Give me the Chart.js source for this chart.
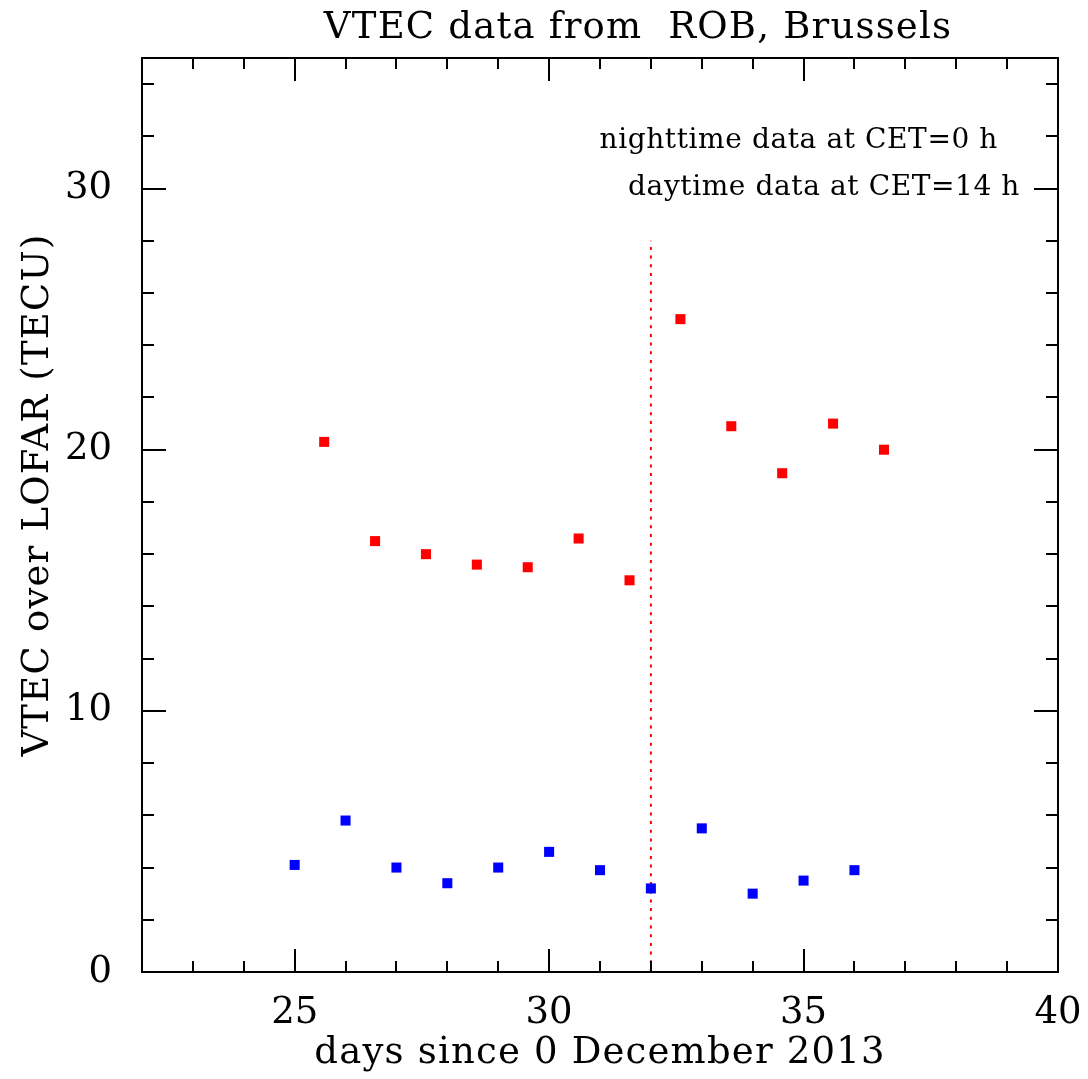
<!DOCTYPE html>
<html>
<head>
<meta charset="utf-8">
<script src="https://cdn.jsdelivr.net/npm/chart.js@4.4.1/dist/chart.umd.min.js"></script>
<style>
  html, body { margin: 0; padding: 0; background: #fff; }
  #wrap { width: 1088px; height: 1079px; }
</style>
</head>
<body>
<div id="wrap"><canvas id="vtec"></canvas></div>
<script>
// VTEC over LOFAR, nighttime (CET 0 h) and daytime (CET 14 h) samples
const nightDays = [25, 26, 27, 28, 29, 30, 31, 32, 33, 34, 35, 36];
const nightVtec = [4.1, 5.8, 4.0, 3.4, 4.0, 4.6, 3.9, 3.2, 5.5, 3.0, 3.5, 3.9];

const dayDays = [25.58, 26.58, 27.58, 28.58, 29.58, 30.58, 31.58, 32.58, 33.58, 34.58, 35.58, 36.58];
const dayVtec = [20.3, 16.5, 16.0, 15.6, 15.5, 16.6, 15.0, 25.0, 20.9, 19.1, 21.0, 20.0];

const markerDay = [32, 32];
const markerVtec = [0, 28];

const xMajor = [25, 30, 35, 40];
const yMajor = [0, 10, 20, 30];

const FONT = "'DejaVu Serif', 'Liberation Serif', serif";

const pts = (xs, ys) => xs.map((x, i) => ({ x: x, y: ys[i] }));

// frame, inward ticks on all four sides, title, axis labels and notes
const framePlugin = {
    id: "frame",
    afterDraw(chart) {
        const { ctx, chartArea: a, scales } = chart;
        const xs = scales.x, ys = scales.y;
        ctx.save();
        ctx.strokeStyle = "#000";
        ctx.lineWidth = 2;
        ctx.strokeRect(a.left, a.top, a.right - a.left, a.bottom - a.top);

        ctx.beginPath();
        for (let v = 22; v <= 40; v += 1) {
            const px = Math.round(xs.getPixelForValue(v));
            const len = v % 5 === 0 ? 23 : 11;
            ctx.moveTo(px, a.bottom); ctx.lineTo(px, a.bottom - len);
            ctx.moveTo(px, a.top); ctx.lineTo(px, a.top + len);
        }
        for (let v = 0; v <= 35; v += 2) {
            const py = Math.round(ys.getPixelForValue(v));
            const len = v % 10 === 0 ? 24 : 12;
            ctx.moveTo(a.left, py); ctx.lineTo(a.left + len, py);
            ctx.moveTo(a.right, py); ctx.lineTo(a.right - len, py);
        }
        ctx.stroke();

        ctx.fillStyle = "#000";
        ctx.textBaseline = "middle";
        ctx.font = "37px " + FONT;
        ctx.letterSpacing = "1.2px";
        ctx.textAlign = "center";
        ctx.fillText("VTEC data from  ROB, Brussels", 638, 28);
        ctx.fillText("days since 0 December 2013", 600, 1053);

        ctx.save();
        ctx.translate(38, 495);
        ctx.rotate(-Math.PI / 2);
        ctx.fillText("VTEC over LOFAR (TECU)", 0, 0);
        ctx.restore();

        ctx.font = "28px " + FONT;
        ctx.letterSpacing = "0.6px";
        ctx.textAlign = "right";
        ctx.fillText("nighttime data at CET=0 h", 998, 141);
        ctx.fillText("daytime data at CET=14 h", 1020, 188);
        ctx.restore();
    }
};

new Chart(document.getElementById("vtec"), {
    type: "scatter",
    data: {
        datasets: [
            {
                label: "night",
                data: pts(nightDays, nightVtec),
                backgroundColor: "#0000ff",
                borderWidth: 0,
                pointStyle: "rect",
                pointRadius: 7.1,
            },
            {
                label: "day",
                data: pts(dayDays, dayVtec),
                backgroundColor: "#ff0000",
                borderWidth: 0,
                pointStyle: "rect",
                pointRadius: 7.1,
            },
            {
                type: "line",
                label: "marker",
                data: pts(markerDay, markerVtec),
                borderColor: "#ff0000",
                borderWidth: 2,
                borderDash: [3, 5.7],
                pointRadius: 0,
                fill: false,
            },
        ],
    },
    options: {
        responsive: true,
        maintainAspectRatio: false,
        animation: false,
        layout: { padding: { top: 58, right: 30, left: 0, bottom: 0 } },
        plugins: {
            legend: { display: false },
            tooltip: { enabled: false },
        },
        scales: {
            x: {
                type: "linear",
                min: 22,
                max: 40,
                grid: { display: false },
                border: { display: false },
                afterBuildTicks: (s) => { s.ticks = xMajor.map(v => ({ value: v })); },
                afterFit: (s) => { s.height = 107; s.paddingLeft = 0; s.paddingRight = 0; },
                ticks: {
                    color: "#000",
                    padding: 11,
                    maxRotation: 0,
                    font: { family: FONT, size: 37 },
                },
            },
            y: {
                type: "linear",
                min: 0,
                max: 35,
                grid: { display: false },
                border: { display: false },
                afterBuildTicks: (s) => { s.ticks = yMajor.map(v => ({ value: v })); },
                afterFit: (s) => { s.width = 142; s.paddingTop = 0; s.paddingBottom = 0; },
                ticks: {
                    color: "#000",
                    padding: 22,
                    font: { family: FONT, size: 37 },
                },
            },
        },
    },
    plugins: [framePlugin],
});
</script>
</body>
</html>
